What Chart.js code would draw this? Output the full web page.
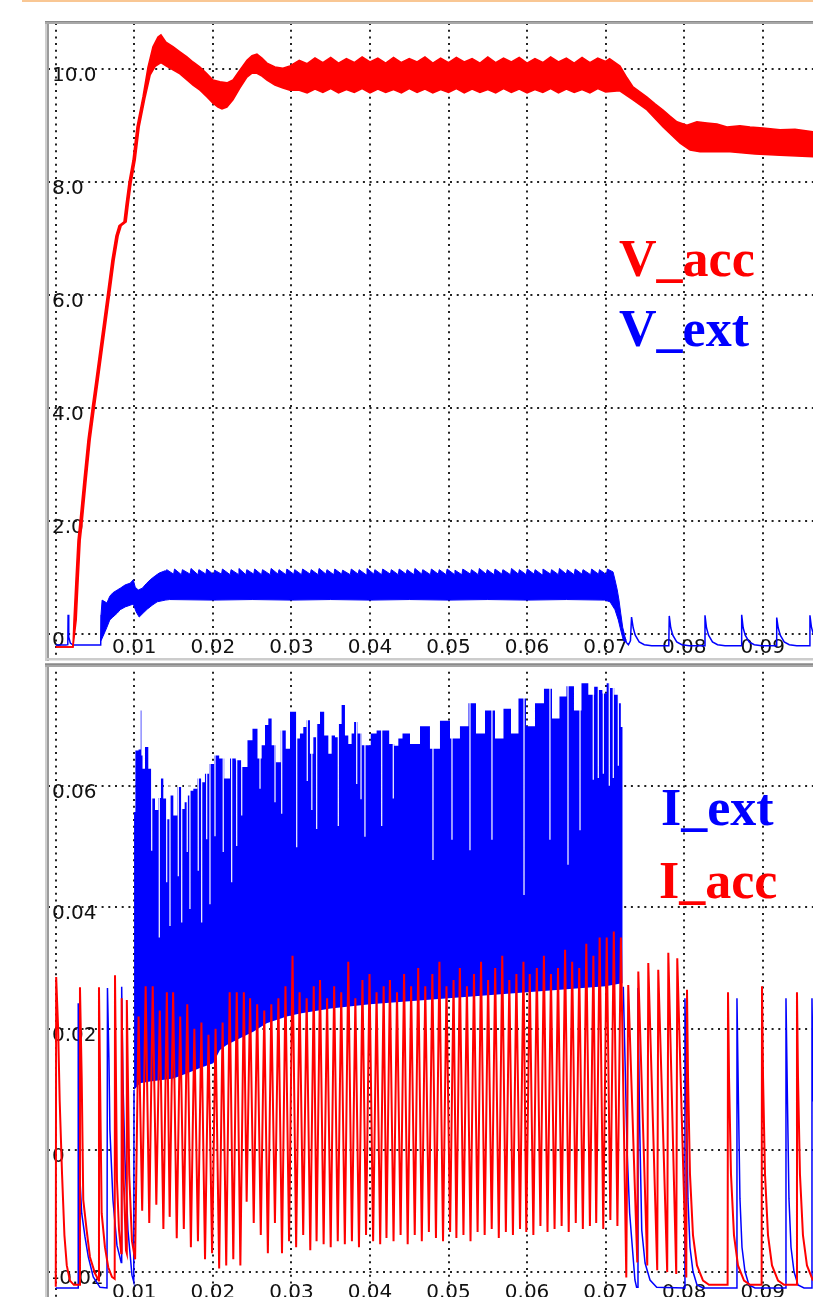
<!DOCTYPE html>
<html><head><meta charset="utf-8">
<script src="https://cdn.jsdelivr.net/npm/chart.js@4/dist/chart.umd.min.js"></script>
<style>
html,body{margin:0;padding:0;background:#fff;}
#wrap{position:relative;width:813px;height:1297px;overflow:hidden;background:#fff;}
#orange{position:absolute;left:22px;top:0;width:791px;height:2px;background:#f9c794;}
canvas{position:absolute;left:0;}
#cTop{top:0;width:813px;height:661px;}
#cBot{top:661px;width:813px;height:636px;}
</style></head><body>
<div id="wrap"><div id="orange"></div>
<canvas id="cTop" width="813" height="661"></canvas>
<canvas id="cBot" width="813" height="636"></canvas>
</div>
<script>
// ---------- axes / ticks ----------
const xTickValues = [0, 0.01, 0.02, 0.03, 0.04, 0.05, 0.06, 0.07, 0.08, 0.09];
const xTickLabels = ['', '0.01', '0.02', '0.03', '0.04', '0.05', '0.06', '0.07', '0.08', '0.09'];
const topYTicks = [0, 2, 4, 6, 8, 10];
const topYLabels = ['0', '2.0', '4.0', '6.0', '8.0', '10.0'];
const botYTicks = [-0.02, 0, 0.02, 0.04, 0.06];
const botYLabels = ['-0.02', '0', '0.02', '0.04', '0.06'];
const topLegend = ['V_acc', 'V_ext'];
const botLegend = ['I_ext', 'I_acc'];

// ---------- top panel: V_acc band (upper / lower edge) ----------
const vAccUpper = [[0,-0.23],[0.00219,-0.23],[0.00232,0.25],[0.00257,0.96],[0.00283,1.66],[0.00308,1.98],[0.00359,2.73],[0.00410,3.44],[0.00461,3.98],[0.00512,4.50],[0.00563,5.03],[0.00614,5.56],[0.00665,6.09],[0.00715,6.62],[0.00766,7.05],[0.00805,7.23],[0.00868,7.30],[0.00894,7.60],[0.00932,8.00],[0.00983,8.39],[0.01034,8.98],[0.01110,9.51],[0.01174,10.04],[0.01237,10.40],[0.01301,10.57],[0.01339,10.61],[0.01403,10.48],[0.01492,10.40],[0.01581,10.31],[0.01670,10.22],[0.01747,10.13],[0.01836,10.04],[0.01925,9.92],[0.02001,9.81],[0.02090,9.78],[0.02179,9.76],[0.02256,9.81],[0.02345,9.99],[0.02434,10.16],[0.02498,10.24],[0.02561,10.27],[0.02625,10.20],[0.02689,10.11],[0.02790,10.04],[0.02892,10.02],[0.02982,10.06],[0.031,10.16],[0.032,10.10],[0.033,10.20],[0.034,10.12],[0.035,10.21],[0.036,10.11],[0.037,10.19],[0.038,10.12],[0.039,10.22],[0.040,10.13],[0.041,10.20],[0.042,10.11],[0.043,10.21],[0.044,10.12],[0.045,10.19],[0.046,10.13],[0.047,10.22],[0.048,10.11],[0.049,10.20],[0.050,10.12],[0.051,10.21],[0.052,10.13],[0.053,10.19],[0.054,10.11],[0.055,10.22],[0.056,10.12],[0.057,10.20],[0.058,10.13],[0.059,10.21],[0.060,10.11],[0.061,10.19],[0.062,10.12],[0.063,10.22],[0.064,10.13],[0.065,10.20],[0.066,10.11],[0.067,10.21],[0.068,10.12],[0.069,10.20],[0.070,10.14],[0.0705,10.19],[0.07183,10.06],[0.07272,9.85],[0.07349,9.69],[0.07527,9.51],[0.07629,9.39],[0.07731,9.28],[0.07819,9.17],[0.07908,9.07],[0.08035,9.01],[0.08162,9.07],[0.08290,9.05],[0.08418,9.03],[0.08545,8.98],[0.08710,9.00],[0.08838,8.98],[0.09003,8.96],[0.09220,8.93],[0.09411,8.94],[0.0965,8.89]];
const vAccLower = [[0,-0.23],[0.00219,-0.23],[0.00260,0.25],[0.00285,0.96],[0.00311,1.66],[0.00336,1.98],[0.00387,2.73],[0.00438,3.44],[0.00489,3.98],[0.00540,4.50],[0.00591,5.03],[0.00642,5.56],[0.00693,6.09],[0.00743,6.62],[0.00794,7.05],[0.00833,7.23],[0.00896,7.30],[0.00922,7.60],[0.00960,8.00],[0.01011,8.39],[0.01062,8.98],[0.01138,9.51],[0.01202,9.90],[0.01265,10.05],[0.01339,10.12],[0.01403,10.06],[0.01492,9.99],[0.01581,9.92],[0.01670,9.81],[0.01747,9.72],[0.01836,9.63],[0.01925,9.51],[0.02001,9.40],[0.02065,9.33],[0.02116,9.30],[0.02179,9.33],[0.02256,9.46],[0.02345,9.67],[0.02434,9.86],[0.02498,9.93],[0.02561,9.93],[0.02625,9.88],[0.02689,9.81],[0.02790,9.72],[0.02892,9.67],[0.02982,9.63],[0.031,9.63],[0.032,9.58],[0.033,9.65],[0.034,9.59],[0.035,9.66],[0.036,9.58],[0.037,9.64],[0.038,9.59],[0.039,9.66],[0.040,9.58],[0.041,9.65],[0.042,9.59],[0.043,9.64],[0.044,9.58],[0.045,9.66],[0.046,9.59],[0.047,9.65],[0.048,9.58],[0.049,9.64],[0.050,9.59],[0.051,9.66],[0.052,9.58],[0.053,9.65],[0.054,9.59],[0.055,9.64],[0.056,9.58],[0.057,9.66],[0.058,9.59],[0.059,9.65],[0.060,9.58],[0.061,9.64],[0.062,9.59],[0.063,9.66],[0.064,9.58],[0.065,9.65],[0.066,9.59],[0.067,9.64],[0.068,9.58],[0.069,9.66],[0.070,9.60],[0.0718,9.62],[0.07349,9.46],[0.07527,9.28],[0.07731,8.98],[0.07948,8.69],[0.08075,8.57],[0.08202,8.54],[0.08583,8.54],[0.08901,8.50],[0.09220,8.48],[0.0965,8.45]];

// ---------- top panel: V_ext ----------
const vExtPre = [[0,-0.195],[0.00130,-0.195],[0.00153,-0.19],[0.00157,0.34],[0.00165,-0.05],[0.00185,-0.16],[0.00220,-0.195],[0.00572,-0.195],[0.00576,0.34]];
const vExtLower = [[0.00576,-0.12],[0.00627,0.04],[0.00651,0.12],[0.00688,0.25],[0.00727,0.30],[0.00783,0.37],[0.00820,0.43],[0.00884,0.48],[0.00947,0.51],[0.00987,0.53],[0.01024,0.39],[0.01062,0.30],[0.01113,0.37],[0.01164,0.44],[0.01228,0.51],[0.01291,0.57],[0.01393,0.60],[0.0145,0.61],[0.020,0.60],[0.025,0.61],[0.030,0.60],[0.035,0.61],[0.040,0.60],[0.045,0.61],[0.050,0.60],[0.055,0.61],[0.060,0.60],[0.065,0.61],[0.0699,0.60],[0.07056,0.57],[0.07119,0.43],[0.07161,0.25],[0.07192,0.07],[0.07225,-0.11],[0.07269,-0.16]];
const vExtUpperHead = [[0.00576,0.34],[0.00590,0.60],[0.00651,0.55],[0.00688,0.67],[0.00727,0.73],[0.00783,0.78],[0.00820,0.81],[0.00884,0.87],[0.00947,0.90],[0.00987,0.96],[0.01011,0.83],[0.01050,0.78],[0.01101,0.81],[0.01151,0.89],[0.01202,0.96],[0.01266,1.03],[0.01317,1.08],[0.01393,1.12]];
// sawtooth teeth on the top edge: [time, value before rise, tooth top]
const vExtTeeth = [[0.0140,1.10,1.14],[0.0150,1.06,1.15],[0.0160,1.05,1.14],[0.0171,1.06,1.16],[0.0181,1.05,1.14],[0.0191,1.06,1.15],[0.0201,1.05,1.13],[0.0211,1.06,1.15],[0.0222,1.05,1.14],[0.0232,1.06,1.16],[0.0242,1.05,1.14],[0.0252,1.06,1.15],[0.0262,1.05,1.14],[0.0273,1.05,1.16],[0.0283,1.06,1.14],[0.0293,1.05,1.15],[0.0303,1.06,1.14],[0.0313,1.05,1.15],[0.0324,1.06,1.14],[0.0334,1.05,1.16],[0.0344,1.06,1.14],[0.0354,1.05,1.15],[0.0364,1.06,1.13],[0.0375,1.05,1.15],[0.0385,1.06,1.14],[0.0395,1.05,1.16],[0.0405,1.06,1.14],[0.0415,1.05,1.15],[0.0426,1.06,1.14],[0.0436,1.05,1.15],[0.0446,1.06,1.14],[0.0456,1.05,1.16],[0.0466,1.06,1.14],[0.0477,1.05,1.15],[0.0487,1.06,1.14],[0.0497,1.05,1.15],[0.0507,1.06,1.13],[0.0517,1.05,1.15],[0.0528,1.06,1.14],[0.0538,1.05,1.16],[0.0548,1.06,1.14],[0.0558,1.05,1.15],[0.0568,1.06,1.14],[0.0579,1.05,1.16],[0.0589,1.06,1.14],[0.0599,1.05,1.15],[0.0609,1.06,1.14],[0.0619,1.05,1.15],[0.0630,1.06,1.14],[0.0640,1.05,1.16],[0.0650,1.06,1.14],[0.0660,1.05,1.15],[0.0670,1.06,1.14],[0.0681,1.05,1.15],[0.0691,1.06,1.14],[0.0701,1.05,1.15]];
const vExtUpperTail = [[0.07094,1.10],[0.07119,0.96],[0.07148,0.78],[0.07170,0.60],[0.07192,0.37],[0.07217,0.12],[0.07247,-0.05],[0.07269,-0.16]];
const vExtPost = [[0.07269,-0.16],[0.07290,-0.19],[0.07316,-0.12],[0.07330,0.30],[0.07351,0.11],[0.07377,-0.02],[0.07427,-0.14],[0.07492,-0.19],[0.07587,-0.21],[0.07804,-0.21],[0.07810,0.32],[0.07829,0.11],[0.07855,-0.02],[0.07905,-0.14],[0.07970,-0.19],[0.08065,-0.21],[0.08259,-0.21],[0.08265,0.33],[0.08284,0.11],[0.08310,-0.02],[0.08360,-0.14],[0.08425,-0.19],[0.08520,-0.21],[0.08726,-0.21],[0.08732,0.34],[0.08751,0.11],[0.08777,-0.02],[0.08827,-0.14],[0.08892,-0.19],[0.08987,-0.21],[0.09172,-0.21],[0.09178,0.29],[0.09197,0.11],[0.09223,-0.02],[0.09273,-0.14],[0.09338,-0.19],[0.09433,-0.21],[0.09595,-0.21],[0.09601,0.33],[0.09620,0.12],[0.09646,-0.01]];

// ---------- bottom panel: I_ext ----------
const iExtPre = [[0,-0.0227],[0.00283,-0.0227],[0.00286,0.0242],[0.00308,-0.0049],[0.00330,-0.0104],[0.00372,-0.0143],[0.00414,-0.0176],[0.00477,-0.0209],[0.00563,-0.0226],[0.00652,-0.0227],[0.00658,0.0267],[0.00677,0.0148],[0.00689,0.0033],[0.00728,-0.0082],[0.00779,-0.0157],[0.00833,-0.0185],[0.00839,0.0269],[0.00855,0.0115],[0.00881,-0.0016],[0.00919,-0.0132],[0.00970,-0.0206],[0.00993,-0.0217],[0.00996,0.0099]];
const iExtLower = [[0.00996,0.0099],[0.01072,0.0110],[0.01199,0.0113],[0.01327,0.0115],[0.01496,0.0118],[0.01666,0.0126],[0.01836,0.0135],[0.02005,0.0143],[0.02090,0.0165],[0.02176,0.0173],[0.02345,0.0184],[0.02514,0.0195],[0.02685,0.0209],[0.02940,0.0220],[0.03109,0.0225],[0.035,0.0233],[0.040,0.0240],[0.045,0.0245],[0.050,0.0250],[0.055,0.0255],[0.060,0.0260],[0.065,0.0265],[0.070,0.0270],[0.07225,0.0275]];
const iExtUpper = [[0.00996,0.0099],[0.00997,0.0557],[0.01030,0.0658],[0.01078,0.0660],[0.01085,0.0724],[0.01095,0.0650],[0.01114,0.0628],[0.01157,0.0664],[0.01199,0.0628],[0.01241,0.0579],[0.01285,0.0560],[0.01330,0.0580],[0.01348,0.0612],[0.01390,0.0579],[0.01432,0.0545],[0.01475,0.0584],[0.01518,0.0551],[0.01581,0.0598],[0.01623,0.0562],[0.01658,0.0573],[0.01687,0.0584],[0.01730,0.0592],[0.01772,0.0595],[0.01836,0.0612],[0.01878,0.0606],[0.01920,0.0620],[0.01985,0.0636],[0.02048,0.0650],[0.02112,0.0645],[0.02176,0.0612],[0.02260,0.0645],[0.02323,0.0642],[0.02409,0.0631],[0.02472,0.0675],[0.02536,0.0694],[0.02600,0.0645],[0.02642,0.0667],[0.02685,0.0700],[0.02727,0.0711],[0.02769,0.0667],[0.02833,0.0639],[0.02896,0.0691],[0.02960,0.0661],[0.03003,0.0722],[0.03045,0.0722],[0.03087,0.0678],[0.03130,0.0686],[0.03172,0.0697],[0.03214,0.0708],[0.03258,0.0653],[0.03300,0.0680],[0.03342,0.0702],[0.03385,0.0722],[0.03449,0.0683],[0.03491,0.0653],[0.03533,0.0683],[0.03576,0.0680],[0.03618,0.0702],[0.03660,0.0733],[0.03703,0.0683],[0.03745,0.0669],[0.03787,0.0686],[0.03809,0.0705],[0.03873,0.0686],[0.03915,0.0667],[0.03978,0.0667],[0.04042,0.0686],[0.04127,0.0691],[0.04213,0.0691],[0.04276,0.0669],[0.04340,0.0666],[0.04382,0.0678],[0.04446,0.0686],[0.04573,0.0669],[0.04700,0.0698],[0.04827,0.0661],[0.04955,0.0707],[0.05082,0.0678],[0.05209,0.0698],[0.05299,0.0736],[0.05400,0.0686],[0.05528,0.0724],[0.05655,0.0678],[0.05744,0.0727],[0.05846,0.0686],[0.05935,0.0744],[0.06037,0.0698],[0.06164,0.0736],[0.06266,0.0760],[0.06368,0.0711],[0.06457,0.0747],[0.06546,0.0764],[0.06648,0.0724],[0.06737,0.0769],[0.06822,0.0750],[0.06886,0.0763],[0.06928,0.0758],[0.06992,0.0752],[0.07034,0.0769],[0.07077,0.0761],[0.07141,0.0750],[0.07183,0.0736],[0.07204,0.0697],[0.07225,0.0275]];
// dropouts from the top edge of the I_ext band: [time, lowest value]
const iExtDropouts = [[0.01221,0.0493],[0.01318,0.0350],[0.01412,0.0441],[0.01454,0.0369],[0.01560,0.0451],[0.01603,0.0375],[0.01674,0.0491],[0.01708,0.0397],[0.01814,0.0460],[0.01857,0.0375],[0.01921,0.0512],[0.01963,0.0405],[0.02027,0.0517],[0.02132,0.0491],[0.02239,0.0441],[0.02303,0.0501],[0.02367,0.0551],[0.02600,0.0595],[0.02791,0.0573],[0.02876,0.0554],[0.03067,0.0499],[0.03202,0.0608],[0.03260,0.0560],[0.03321,0.0529],[0.03597,0.0534],[0.03831,0.0603],[0.03886,0.0578],[0.03936,0.0516],[0.04149,0.0534],[0.04297,0.0579],[0.04802,0.0478],[0.05044,0.0511],[0.05273,0.0494],[0.05553,0.0511],[0.05961,0.0420],[0.06291,0.0511],[0.06521,0.0470],[0.06674,0.0527],[0.06843,0.0610],[0.06907,0.0613],[0.06971,0.0620],[0.07047,0.0600],[0.07098,0.0613],[0.07162,0.0633]];
const iExtPost = [[0.07225,0.0269],[0.07247,0.0148],[0.07273,0.0],[0.07306,-0.0104],[0.07340,-0.0160],[0.07373,-0.0214],[0.07394,-0.0226],[0.07408,-0.0226],[0.07412,0.0267],[0.07432,0.0050],[0.07460,-0.0132],[0.07502,-0.0186],[0.07565,-0.0214],[0.07650,-0.0226],[0.08005,-0.0227],[0.08010,0.0250],[0.08029,0.0080],[0.08048,-0.0080],[0.08074,-0.0160],[0.08112,-0.0200],[0.08163,-0.0222],[0.08240,-0.0227],[0.08667,-0.0227],[0.08672,0.0250],[0.08691,0.0080],[0.08710,-0.0080],[0.08736,-0.0160],[0.08774,-0.0200],[0.08825,-0.0222],[0.08902,-0.0227],[0.09291,-0.0227],[0.09296,0.0250],[0.09315,0.0080],[0.09334,-0.0080],[0.09360,-0.0160],[0.09398,-0.0200],[0.09449,-0.0222],[0.09526,-0.0227],[0.09622,-0.0227],[0.09627,0.0250],[0.09646,0.0080]];

// ---------- bottom panel: I_acc ----------
const iAccPre = [[0,-0.0225],[0.00005,0.0285],[0.0003,0.020],[0.0005,0.008],[0.0008,-0.004],[0.0011,-0.014],[0.0014,-0.019],[0.0018,-0.0215],[0.0023,-0.0222],[0.00305,-0.0222],[0.00308,0.0268],[0.00330,0.012],[0.00350,-0.0082],[0.00393,-0.0132],[0.00435,-0.0176],[0.00499,-0.0203],[0.00547,-0.0215],[0.00550,0.0268],[0.00584,-0.0104],[0.00626,-0.0160],[0.00668,-0.0193],[0.00715,-0.0209],[0.00750,-0.0212],[0.00754,0.0288],[0.00779,-0.0050],[0.00805,-0.0132],[0.00833,-0.0170],[0.00839,0.0250],[0.00865,-0.0050],[0.00894,-0.0165],[0.00903,-0.0170],[0.00906,0.0247],[0.00935,-0.0040],[0.00970,-0.0150]];
// dense oscillation while the beam is on: successive troughs and peaks [time, value]
const iAccBand = [[0.0101,-0.018],[0.01054,0.022],[0.0110,-0.010],[0.01144,0.027],[0.0119,-0.012],[0.01234,0.027],[0.0128,-0.009],[0.01324,0.023],[0.0137,-0.013],[0.01414,0.026],[0.0145,-0.011],[0.01494,0.026],[0.0154,-0.0145],[0.01584,0.022],[0.0163,-0.013],[0.01674,0.024],[0.0172,-0.016],[0.01764,0.020],[0.0181,-0.015],[0.01854,0.021],[0.0190,-0.018],[0.01944,0.019],[0.0199,-0.017],[0.02034,0.020],[0.0208,-0.0195],[0.02124,0.021],[0.0217,-0.019],[0.02214,0.026],[0.0226,-0.018],[0.02304,0.026],[0.0235,-0.019],[0.02394,0.026],[0.0243,-0.0085],[0.02474,0.025],[0.0252,-0.012],[0.02564,0.024],[0.0261,-0.014],[0.02654,0.023],[0.0270,-0.017],[0.02744,0.024],[0.0279,-0.012],[0.02834,0.025],[0.0288,-0.017],[0.02924,0.027],[0.0297,-0.015],[0.03014,0.032],[0.0306,-0.016],[0.03104,0.026],[0.0315,-0.014],[0.03194,0.025],[0.0324,-0.0165],[0.03284,0.027],[0.0332,-0.015],[0.03364,0.028],[0.0341,-0.0155],[0.03454,0.025],[0.0350,-0.016],[0.03544,0.027],[0.0359,-0.015],[0.03634,0.026],[0.0368,-0.0155],[0.03724,0.031],[0.0377,-0.015],[0.03814,0.025],[0.0386,-0.016],[0.03904,0.028],[0.0395,-0.014],[0.03994,0.029],[0.0404,-0.015],[0.04084,0.026],[0.0413,-0.0155],[0.04174,0.027],[0.0421,-0.0145],[0.04254,0.028],[0.0430,-0.015],[0.04344,0.026],[0.0439,-0.014],[0.04434,0.029],[0.0448,-0.0155],[0.04524,0.027],[0.0457,-0.014],[0.04614,0.030],[0.0466,-0.015],[0.04704,0.027],[0.0475,-0.0135],[0.04794,0.029],[0.0484,-0.0145],[0.04884,0.031],[0.0493,-0.015],[0.04974,0.027],[0.0502,-0.0135],[0.05064,0.028],[0.0510,-0.0145],[0.05144,0.030],[0.0519,-0.014],[0.05234,0.027],[0.0528,-0.015],[0.05324,0.029],[0.0537,-0.0135],[0.05414,0.031],[0.0546,-0.014],[0.05504,0.028],[0.0555,-0.013],[0.05594,0.030],[0.0564,-0.0145],[0.05684,0.032],[0.0573,-0.0135],[0.05774,0.028],[0.0582,-0.014],[0.05864,0.029],[0.0591,-0.013],[0.05954,0.031],[0.0599,-0.0135],[0.06034,0.029],[0.0608,-0.014],[0.06124,0.030],[0.0617,-0.0125],[0.06214,0.032],[0.0626,-0.0135],[0.06304,0.029],[0.0635,-0.013],[0.06394,0.030],[0.0644,-0.0125],[0.06484,0.033],[0.0653,-0.0135],[0.06574,0.031],[0.0662,-0.012],[0.06664,0.030],[0.0671,-0.013],[0.06754,0.034],[0.0680,-0.0125],[0.06844,0.032],[0.0688,-0.012],[0.06924,0.035],[0.0697,-0.013],[0.07014,0.035],[0.0706,-0.0115],[0.07104,0.036],[0.0715,-0.0125],[0.07194,0.035]];
const iAccPost = [[0.07263,-0.0210],[0.07288,0.0272],[0.07403,-0.0185],[0.07416,0.0294],[0.07530,-0.0190],[0.07543,0.0308],[0.07657,-0.0198],[0.07670,0.0297],[0.07784,-0.0201],[0.07798,0.0325],[0.07899,-0.0204],[0.07912,0.0316],[0.08027,-0.0210],[0.08036,0.0264],[0.08049,0.0120],[0.08074,-0.0040],[0.08112,-0.0140],[0.08163,-0.0190],[0.08240,-0.0215],[0.08316,-0.0222],[0.08553,-0.0222],[0.08558,0.0260],[0.08571,0.0120],[0.08596,-0.0040],[0.08634,-0.0140],[0.08685,-0.0190],[0.08762,-0.0215],[0.08838,-0.0222],[0.08986,-0.0222],[0.08991,0.0270],[0.09004,0.0120],[0.09029,-0.0040],[0.09067,-0.0140],[0.09118,-0.0190],[0.09195,-0.0215],[0.09271,-0.0222],[0.09431,-0.0222],[0.09436,0.0260],[0.09449,0.0120],[0.09474,-0.0040],[0.09512,-0.0140],[0.09563,-0.0190],[0.09640,-0.0215]];

// ---------- helpers ----------
const RED = '#ff0000', BLUE = '#0000ff';
const X_MIN = -0.00099, X_MAX = 0.0964;
const pts = arr => arr.map(p => ({x: p[0], y: p[1]}));
function toothPoints(head, teeth, tail) {
  const out = pts(head);
  teeth.forEach(([t, lo, hi]) => { out.push({x: t, y: lo}); out.push({x: t + 0.00012, y: hi}); });
  return out.concat(pts(tail));
}
function dropoutPoints(drops, top) {
  const out = [];
  drops.forEach(([t, d]) => { out.push({x: t, y: top}); out.push({x: t, y: d}); out.push({x: t, y: null}); });
  return out;
}

function makePlugin(cfg) {
  return {
    id: 'scopeDecor',
    beforeDatasetsDraw(chart) {
      const {ctx, scales} = chart;
      ctx.save();
      ctx.font = '20px "DejaVu Sans"';
      ctx.fillStyle = '#111';
      ctx.textBaseline = 'alphabetic';
      ctx.textAlign = 'left';
      cfg.yTicks.forEach((v, i) => ctx.fillText(cfg.yLabels[i], 52, scales.y.getPixelForValue(v) + 12));
      ctx.textAlign = 'center';
      xTickValues.forEach((v, i) => { if (xTickLabels[i]) ctx.fillText(xTickLabels[i], scales.x.getPixelForValue(v), cfg.xBase); });
      ctx.restore();
    },
    afterDraw(chart) {
      const {ctx} = chart;
      ctx.save();
      cfg.frame(ctx);
      ctx.font = 'bold 52px "Liberation Serif"';
      ctx.textAlign = 'left';
      ctx.textBaseline = 'alphabetic';
      cfg.legend.forEach(l => { ctx.fillStyle = l.color; ctx.fillText(l.text, l.x, l.y); });
      ctx.restore();
    }
  };
}

function makeOptions(cfg) {
  return {
    responsive: false, animation: false, devicePixelRatio: 1,
    layout: {padding: cfg.padding},
    plugins: {legend: {display: false}, tooltip: {enabled: false}},
    elements: {point: {radius: 0, hoverRadius: 0}, line: {tension: 0}},
    scales: {
      x: {type: 'linear', min: X_MIN, max: X_MAX, z: 1,
        grid: {color: '#222', lineWidth: 2, drawTicks: false},
        border: {display: false, dash: [2, 4.7]},
        ticks: {display: false},
        afterBuildTicks: s => { s.ticks = xTickValues.map(v => ({value: v})); },
        afterFit: s => { s.height = 0; }},
      y: {type: 'linear', min: cfg.yMin, max: cfg.yMax, z: 1,
        grid: {color: '#222', lineWidth: 2, drawTicks: false},
        border: {display: false, dash: [2, 4.7]},
        ticks: {display: false},
        afterBuildTicks: s => { s.ticks = cfg.yTicks.map(v => ({value: v})); },
        afterFit: s => { s.width = 0; }}
    }
  };
}

// ---------- top chart ----------
const topCfg = {
  padding: {left: 48, right: 0, top: 23, bottom: 3},
  yMin: -0.425, yMax: 10.82, yTicks: topYTicks, yLabels: topYLabels, xBase: 653,
  legend: [{text: topLegend[0], color: RED, x: 619, y: 276}, {text: topLegend[1], color: BLUE, x: 619, y: 346}],
  frame(ctx) {
    ctx.fillStyle = '#cfcfcf'; ctx.fillRect(45, 21, 2, 640);
    ctx.fillStyle = '#9c9c9c'; ctx.fillRect(47, 21, 2, 640);
    ctx.fillStyle = '#a8a8a8'; ctx.fillRect(45, 21, 768, 3);
    ctx.fillStyle = '#8a8a8a'; ctx.fillRect(45, 21, 768, 1);
    ctx.fillStyle = '#cccccc'; ctx.fillRect(45, 658, 768, 2.5);
  }
};
new Chart(document.getElementById('cTop'), {
  type: 'line',
  data: {datasets: [
    {data: pts(vAccLower), borderColor: RED, borderWidth: 1.5, fill: false, order: 0},
    {data: pts(vAccUpper), borderColor: RED, borderWidth: 1.5, backgroundColor: RED, fill: '-1', order: 0},
    {data: pts(vExtPre), borderColor: BLUE, borderWidth: 1.5, fill: false, order: 1},
    {data: pts(vExtLower), borderColor: BLUE, borderWidth: 1, fill: false, order: 1},
    {data: toothPoints(vExtUpperHead, vExtTeeth, vExtUpperTail), borderColor: BLUE, borderWidth: 1, backgroundColor: BLUE, fill: '-1', order: 1},
    {data: pts(vExtPost), borderColor: BLUE, borderWidth: 1.5, fill: false, order: 1}
  ]},
  options: makeOptions(topCfg),
  plugins: [makePlugin(topCfg)]
});

// ---------- bottom chart ----------
const botCfg = {
  padding: {left: 48, right: 0, top: 4, bottom: 0},
  yMin: -0.0242, yMax: 0.0799, yTicks: botYTicks, yLabels: botYLabels, xBase: 636.5,
  legend: [{text: botLegend[0], color: BLUE, x: 661, y: 164}, {text: botLegend[1], color: RED, x: 659, y: 237}],
  frame(ctx) {
    ctx.fillStyle = '#cfcfcf'; ctx.fillRect(45, 2, 2, 640);
    ctx.fillStyle = '#9c9c9c'; ctx.fillRect(47, 2, 2, 640);
    ctx.fillStyle = '#a6a6a6'; ctx.fillRect(45, 2, 768, 4);
    ctx.fillStyle = '#8a8a8a'; ctx.fillRect(45, 3, 768, 1);
  }
};
new Chart(document.getElementById('cBot'), {
  type: 'line',
  data: {datasets: [
    {data: pts(iAccPre.concat(iAccBand, iAccPost)), borderColor: RED, borderWidth: 2, fill: false, order: 0},
    {data: pts(iExtPre), borderColor: BLUE, borderWidth: 1.5, fill: false, order: 2},
    {data: pts(iExtLower), borderColor: BLUE, borderWidth: 0, fill: false, order: 2},
    {data: pts(iExtUpper), borderColor: BLUE, borderWidth: 0, backgroundColor: BLUE, fill: '-1', stepped: 'middle', order: 2},
    {data: pts(iExtPost), borderColor: BLUE, borderWidth: 1.5, fill: false, order: 2},
    {data: dropoutPoints(iExtDropouts, 0.079), borderColor: 'rgba(255,255,255,0.92)', borderWidth: 1.3, fill: false, spanGaps: false, order: 1}
  ]},
  options: makeOptions(botCfg),
  plugins: [makePlugin(botCfg)]
});
</script>
</body></html>
